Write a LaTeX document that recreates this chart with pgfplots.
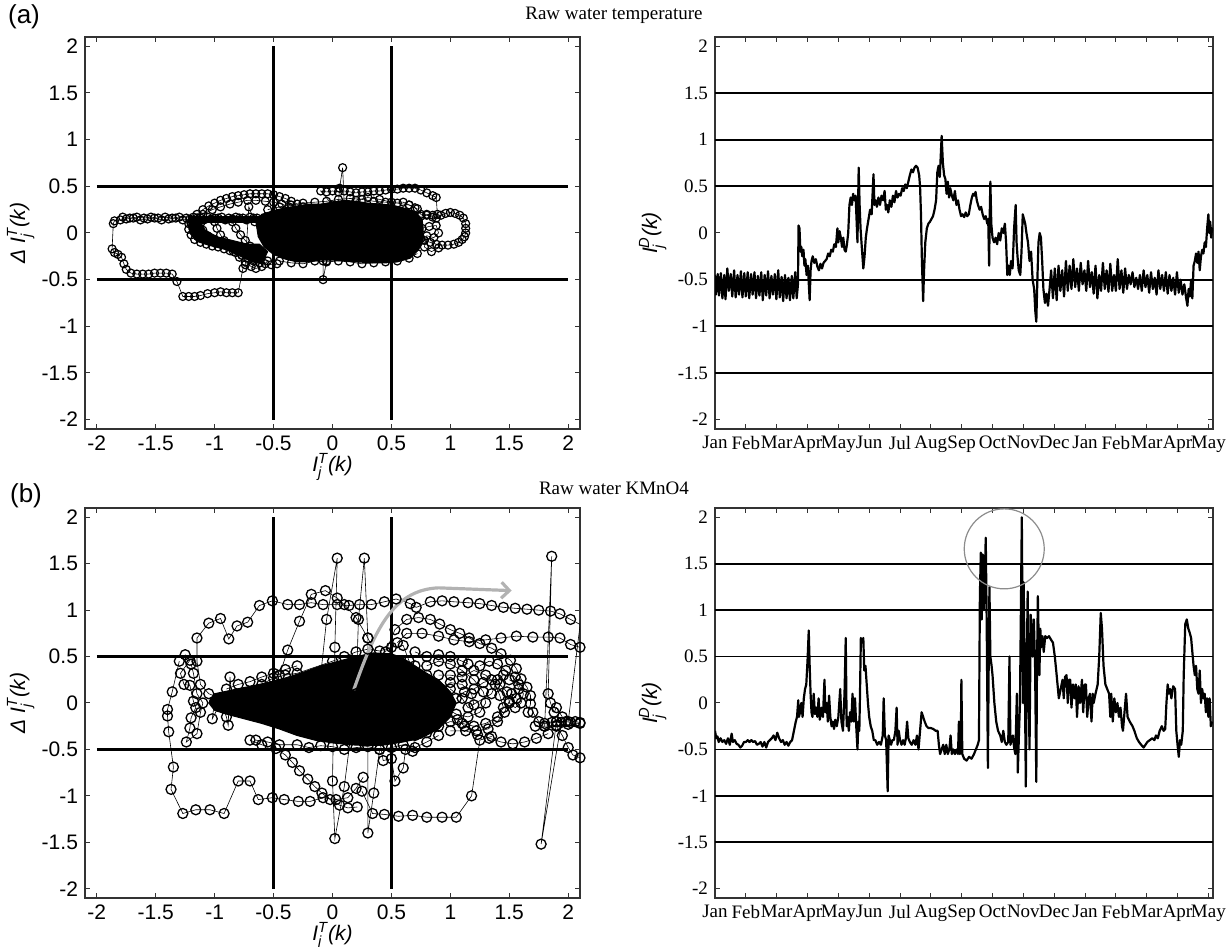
\documentclass[border=0pt]{standalone}
\usepackage{fontspec}
\setmainfont{Liberation Sans}
\newfontfamily\tnr{Liberation Serif}
\usepackage{amsmath}
\usepackage{pgfplots}
\pgfplotsset{compat=1.18}
\usetikzlibrary{arrows.meta}

\pgfplotsset{
  mbox/.style={scale only axis, anchor=south west,
    axis line style={black!80, line width=0.6pt},
    tick style={black!80, line width=0.5pt},
    major tick length=2.5pt, tick align=inside,
    xtick pos=both, ytick pos=both,
    xticklabel pos=lower, yticklabel pos=left,
    ytick={-2,-1.5,-1,-0.5,0,0.5,1,1.5,2},
    yticklabels={-2,-1.5,-1,-0.5,0,0.5,1,1.5,2},
    tick label style={font=\fontsize{10.5}{12}\selectfont},
    label style={font=\fontsize{10.5}{12}\selectfont\itshape},
  },
  phase/.style={mbox, width=247.5pt, xmin=-2.1, xmax=2.1,
    xtick={-2,-1.5,-1,-0.5,0,0.5,1,1.5,2},
    xticklabels={-2,-1.5,-1,-0.5,0,0.5,1,1.5,2},
    xlabel={I$^{\text{T}}_{\text{j}}$(k)},
    ylabel={Δ I$^{\text{T}}_{\text{j}}$(k)},
    every axis x label/.append style={at={(axis description cs:0.5,0)}, yshift=-19pt, anchor=center, inner sep=0pt},
    every axis y label/.append style={at={(axis description cs:-0.13,0.5)}, anchor=center},
  },
  series/.style={mbox, width=249pt, xmin=0, xmax=16.15,
    xtick={0,...,16},
    xticklabels={Jan,Feb,Mar,Apr,May,Jun,Jul,Aug,Sep,Oct,Nov,Dec,Jan,Feb,Mar,Apr,May},
    tick label style={font=\tnr\fontsize{9.5}{11}\selectfont},
    ylabel={I$^{\text{D}}_{\text{j}}$(k)},
    every axis y label/.append style={at={(axis description cs:-0.125,0.5)}, anchor=center},
  },
  trT/.style={black, line width=0.3pt, mark=o, mark size=2pt, mark options={line width=0.6pt, solid}},
  trK/.style={black, line width=0.3pt, mark=o, mark size=2.5pt, mark options={line width=0.65pt, solid}},
  blob/.style={black, fill=black, line width=0.5pt, mark=none},
  refl/.style={black, line width=1.4pt, mark=none},
  gline/.style={black, line width=0.9pt, mark=none},
  ser/.style={black, line width=1.1pt, mark=none, line join=round},
}

\begin{document}
\begin{tikzpicture}

% ---------- (a) phase plot, raw water temperature ----------
\begin{axis}[phase, at={(42.5pt,259pt)}, height=196pt, ymin=-2.1, ymax=2.1]
% dense cores of overlapping markers
\addplot[blob] coordinates {(-0.65,0.12) (-0.6,0.2) (-0.5,0.24) (-0.4,0.27) (-0.3,0.29) (-0.2,0.31) (-0.1,0.31) (0.0,0.33) (0.1,0.35) (0.2,0.34) (0.3,0.32) (0.4,0.31) (0.5,0.3) (0.6,0.27) (0.7,0.23) (0.76,0.15) (0.77,0.05) (0.77,-0.08) (0.73,-0.18) (0.66,-0.27) (0.55,-0.31) (0.45,-0.32) (0.35,-0.32) (0.2,-0.31) (0.1,-0.3) (0.0,-0.29) (-0.1,-0.29) (-0.2,-0.31) (-0.3,-0.31) (-0.4,-0.28) (-0.5,-0.23) (-0.58,-0.15) (-0.63,-0.04)} -- cycle;
\addplot[blob] coordinates {(-1.22,0.115) (-0.6,0.115) (-0.6,0.18) (-1.22,0.18)} -- cycle;
\addplot[blob] coordinates {(-1.22,0.12) (-1.21,0.0) (-1.15,-0.09) (-1.05,-0.13) (-0.9,-0.18) (-0.78,-0.25) (-0.68,-0.31) (-0.6,-0.33) (-0.55,-0.2) (-0.62,-0.12) (-0.72,-0.12) (-0.85,-0.08) (-0.98,-0.04) (-1.08,0.03) (-1.12,0.12)} -- cycle;
% track and left excursion
\addplot[trT] coordinates {(-0.55,0.15) (-0.61,0.14) (-0.67,0.16) (-0.73,0.14) (-0.79,0.16) (-0.85,0.15) (-0.91,0.14) (-0.97,0.16) (-1.03,0.15) (-1.09,0.14) (-1.15,0.16) (-1.21,0.15) (-1.27,0.14) (-1.33,0.16) (-1.39,0.15) (-1.45,0.14) (-1.51,0.16) (-1.57,0.15) (-1.63,0.14) (-1.69,0.16) (-1.75,0.15) (-1.8,0.14) (-1.85,0.13) (-1.86,0.10) (-1.87,-0.17) (-1.85,-0.21) (-1.82,-0.23) (-1.79,-0.26) (-1.77,-0.33) (-1.75,-0.39) (-1.71,-0.43) (-1.66,-0.44) (-1.61,-0.44) (-1.56,-0.44) (-1.51,-0.43) (-1.46,-0.43) (-1.41,-0.43) (-1.36,-0.44) (-1.32,-0.52) (-1.27,-0.68) (-1.22,-0.68) (-1.17,-0.68) (-1.12,-0.67) (-1.06,-0.65) (-1.0,-0.64) (-0.95,-0.63) (-0.9,-0.64) (-0.85,-0.64) (-0.8,-0.64) (-0.76,-0.38) (-0.74,-0.34) (-0.71,0.28) (-0.66,0.12)};
\addplot[trT] coordinates {(-1.78,0.17) (-1.72,0.16) (-1.66,0.17) (-1.6,0.16) (-1.54,0.17) (-1.48,0.16) (-1.42,0.17) (-1.36,0.16) (-1.3,0.17) (-1.24,0.16) (-1.18,0.17) (-1.12,0.16) (-1.06,0.17) (-1.0,0.16) (-0.94,0.17) (-0.88,0.16) (-0.82,0.17) (-0.76,0.16) (-0.7,0.17) (-0.64,0.16)};
% upper-left arcs
\addplot[trT] coordinates {(-1.2,0.1) (-1.15,0.2) (-1.1,0.25) (-1.05,0.29) (-1.0,0.32) (-0.95,0.35) (-0.9,0.37) (-0.85,0.39) (-0.8,0.4) (-0.75,0.41) (-0.7,0.42) (-0.65,0.42) (-0.6,0.42) (-0.55,0.42) (-0.5,0.41) (-0.45,0.39) (-0.4,0.37) (-0.35,0.34) (-0.3,0.31) (-0.25,0.28) (-0.2,0.24)};
\addplot[trT] coordinates {(-1.1,0.2) (-1.02,0.25) (-0.95,0.28) (-0.87,0.31) (-0.8,0.33) (-0.72,0.35) (-0.65,0.35) (-0.57,0.34) (-0.5,0.33) (-0.43,0.31) (-0.37,0.28)};
% lower-left loops
\addplot[trT] coordinates {(-1.22,0.1) (-1.22,0.04) (-1.2,-0.02) (-1.17,-0.07) (-1.12,-0.1) (-1.07,-0.12) (-1.02,-0.14) (-0.97,-0.15) (-0.92,-0.17) (-0.87,-0.19) (-0.82,-0.21) (-0.77,-0.24) (-0.72,-0.27) (-0.67,-0.3) (-0.62,-0.32) (-0.57,-0.33) (-0.52,-0.34) (-0.47,-0.33)};
\addplot[trT] coordinates {(-1.0,0.12) (-0.98,0.05) (-0.95,-0.02) (-0.92,-0.08) (-0.88,-0.14) (-0.84,-0.2) (-0.79,-0.26) (-0.74,-0.31) (-0.69,-0.36) (-0.65,-0.38) (-0.6,-0.36) (-0.55,-0.3)};
\addplot[trT] coordinates {(-1.12,0.1) (-1.1,0.03) (-1.06,-0.03) (-1.0,-0.07) (-0.94,-0.1) (-0.88,-0.12) (-0.82,-0.15) (-0.76,-0.19) (-0.7,-0.22)};
\addplot[trT] coordinates {(-0.85,0.12) (-0.82,0.05) (-0.78,-0.02) (-0.74,-0.08) (-0.7,-0.14) (-0.65,-0.2) (-0.6,-0.25)};
% upper-right arcs and right loop
\addplot[trT] coordinates {(0.0,0.3) (-0.1,0.45) (-0.05,0.44) (0.0,0.45) (0.05,0.44) (0.1,0.45) (0.15,0.44) (0.2,0.43) (0.25,0.44) (0.3,0.44) (0.35,0.45) (0.4,0.45) (0.45,0.46) (0.5,0.47) (0.55,0.47) (0.6,0.48) (0.65,0.48) (0.7,0.48) (0.75,0.46) (0.8,0.43) (0.85,0.4) (0.88,0.38) (0.89,0.2)};
\addplot[trT] coordinates {(0.2,0.35) (0.3,0.38) (0.4,0.36) (0.5,0.33) (0.6,0.33) (0.65,0.3) (0.7,0.27) (0.75,0.2) (0.8,0.2) (0.85,0.19)};
\addplot[trT] coordinates {(0.75,0.18) (0.8,0.19) (0.85,0.17) (0.88,0.16) (0.92,0.19) (0.96,0.21) (1.0,0.22) (1.04,0.21) (1.08,0.19) (1.11,0.16) (1.13,0.1) (1.13,0.05) (1.13,0.0) (1.12,-0.04) (1.1,-0.07) (1.07,-0.1) (1.03,-0.12) (0.98,-0.13) (0.93,-0.13) (0.88,-0.12) (0.83,-0.1) (0.78,-0.08) (0.75,-0.06)};
\addplot[trT] coordinates {(0.76,0.05) (0.82,0.07) (0.88,0.08) (0.9,0.0) (0.86,-0.05) (0.8,-0.03) (0.78,-0.15) (0.84,-0.2) (0.9,-0.16)};
% core edge markers
\addplot[trT] coordinates {(-0.45,-0.3) (-0.35,-0.32) (-0.25,-0.33) (-0.15,-0.3) (-0.05,-0.31) (0.05,-0.3) (0.15,-0.31) (0.25,-0.33) (0.35,-0.32) (0.45,-0.31) (0.55,-0.3) (0.65,-0.27) (0.72,-0.22)};
\addplot[trT] coordinates {(-0.55,0.25) (-0.45,0.28) (-0.35,0.3) (-0.25,0.32) (-0.15,0.33) (-0.05,0.34) (0.05,0.36) (0.15,0.37) (0.25,0.36) (0.35,0.34) (0.45,0.33) (0.55,0.32) (0.65,0.3) (0.72,0.26)};
% outliers
\addplot[trT] coordinates {(0.05,0.3) (0.06,0.48) (0.086,0.7) (0.1,0.3)};
\addplot[trT] coordinates {(-0.08,-0.3) (-0.08,-0.5) (-0.05,-0.3)};
% reference lines
\addplot[refl] coordinates {(-0.5,-2) (-0.5,2)};
\addplot[refl] coordinates {(0.5,-2) (0.5,2)};
\addplot[refl] coordinates {(-2,0.5) (2,0.5)};
\addplot[refl] coordinates {(-2,-0.5) (2,-0.5)};
\end{axis}

% ---------- (a) time series ----------
\begin{axis}[series, at={(357.5pt,259pt)}, height=196pt, ymin=-2.1, ymax=2.1]
\addplot[gline] coordinates {(0,1.5) (16.15,1.5)};
\addplot[gline] coordinates {(0,1) (16.15,1)};
\addplot[gline] coordinates {(0,0.5) (16.15,0.5)};
\addplot[gline] coordinates {(0,-0.5) (16.15,-0.5)};
\addplot[gline] coordinates {(0,-1) (16.15,-1)};
\addplot[gline] coordinates {(0,-1.5) (16.15,-1.5)};
\addplot[ser] coordinates {
(0.00,-0.45) (0.03,-0.66) (0.09,-0.44) (0.13,-0.67) (0.19,-0.43) (0.24,-0.70) (0.30,-0.45) (0.34,-0.71) (0.40,-0.38) (0.45,-0.62)
(0.51,-0.44) (0.56,-0.68) (0.62,-0.40) (0.67,-0.69) (0.73,-0.45) (0.78,-0.66) (0.84,-0.41) (0.89,-0.69) (0.95,-0.43) (1.00,-0.68)
(1.06,-0.42) (1.11,-0.70) (1.17,-0.44) (1.22,-0.66) (1.28,-0.42) (1.33,-0.70) (1.39,-0.46) (1.44,-0.67) (1.50,-0.42) (1.55,-0.72)
(1.61,-0.45) (1.66,-0.67) (1.72,-0.41) (1.77,-0.70) (1.83,-0.46) (1.88,-0.66) (1.94,-0.44) (1.99,-0.71) (2.05,-0.40) (2.10,-0.69)
(2.16,-0.47) (2.21,-0.73) (2.27,-0.45) (2.32,-0.70) (2.38,-0.48) (2.43,-0.72) (2.49,-0.46) (2.54,-0.70) (2.60,-0.42) (2.65,-0.70)
(2.69,-0.55) (2.71,0.08) (2.74,0.05) (2.77,-0.20) (2.80,-0.15) (2.83,-0.25) (2.87,-0.18) (2.90,-0.35) (2.93,-0.28) (2.97,-0.45)
(3.01,-0.35) (3.07,-0.72) (3.10,-0.40) (3.13,-0.30) (3.17,-0.25) (3.22,-0.32) (3.27,-0.28) (3.32,-0.36) (3.37,-0.40) (3.42,-0.33)
(3.47,-0.38) (3.52,-0.32) (3.57,-0.30) (3.62,-0.28) (3.67,-0.22) (3.72,-0.25) (3.77,-0.18) (3.82,-0.20) (3.87,-0.12) (3.92,-0.15)
(3.97,0.05) (4.00,-0.10) (4.04,0.02) (4.08,-0.05) (4.12,-0.15) (4.16,-0.05) (4.20,-0.18) (4.24,-0.20) (4.28,-0.12) (4.32,0.00)
(4.36,0.30) (4.40,0.38) (4.44,0.30) (4.48,0.42) (4.52,0.35) (4.56,0.40) (4.59,0.15) (4.62,-0.10) (4.66,0.70) (4.69,0.30)
(4.72,0.05) (4.76,-0.15) (4.81,-0.38) (4.85,-0.25) (4.89,-0.05) (4.93,0.05) (4.98,0.15) (5.03,0.25) (5.08,0.20) (5.14,0.63)
(5.17,0.30) (5.21,0.35) (5.25,0.28) (5.30,0.38) (5.35,0.30) (5.40,0.40) (5.45,0.35) (5.50,0.45) (5.54,0.25) (5.58,0.30)
(5.62,0.22) (5.67,0.35) (5.72,0.28) (5.77,0.40) (5.82,0.33) (5.87,0.45) (5.92,0.38) (5.97,0.42) (6.02,0.40) (6.07,0.48)
(6.12,0.45) (6.17,0.52) (6.22,0.48) (6.27,0.55) (6.32,0.62) (6.37,0.68) (6.42,0.65) (6.47,0.70) (6.52,0.72) (6.57,0.70)
(6.62,0.62) (6.65,0.50) (6.68,0.20) (6.71,-0.30) (6.75,-0.73) (6.78,-0.40) (6.82,-0.10) (6.87,0.05) (6.92,0.10) (6.97,0.12)
(7.02,0.15) (7.07,0.18) (7.12,0.25) (7.17,0.35) (7.21,0.65) (7.25,0.72) (7.29,0.60) (7.35,1.04) (7.39,0.75) (7.43,0.62)
(7.47,0.58) (7.51,0.42) (7.55,0.55) (7.59,0.38) (7.63,0.48) (7.68,0.40) (7.73,0.35) (7.78,0.45) (7.83,0.30) (7.88,0.35)
(7.93,0.25) (7.98,0.18) (8.03,0.20) (8.08,0.17) (8.13,0.22) (8.18,0.18) (8.23,0.20) (8.28,0.30) (8.33,0.38) (8.37,0.42)
(8.41,0.40) (8.45,0.44) (8.49,0.35) (8.53,0.30) (8.58,0.25) (8.63,0.28) (8.68,0.20) (8.73,0.15) (8.78,0.18) (8.83,0.10)
(8.86,0.15) (8.89,-0.35) (8.91,0.20) (8.93,0.55) (8.96,0.10) (9.00,-0.05) (9.05,-0.10) (9.10,-0.05) (9.15,-0.12) (9.20,0.00)
(9.25,-0.08) (9.30,0.05) (9.35,0.00) (9.40,0.10) (9.44,-0.10) (9.48,-0.45) (9.52,-0.35) (9.56,-0.45) (9.60,-0.30) (9.65,-0.38)
(9.70,0.05) (9.75,0.30) (9.78,-0.10) (9.81,-0.25) (9.85,-0.40) (9.90,-0.45) (9.94,-0.20) (9.98,0.20) (10.02,0.15) (10.06,0.10)
(10.10,0.00) (10.15,-0.10) (10.20,-0.30) (10.25,-0.20) (10.30,-0.50) (10.35,-0.60) (10.39,-0.85) (10.42,-0.95) (10.45,-0.55) (10.49,-0.10)
(10.53,0.00) (10.57,-0.05) (10.61,-0.30) (10.65,-0.60) (10.70,-0.75) (10.75,-0.65) (10.80,-0.78) (10.85,-0.60)
(10.90,-0.40) (10.96,-0.70) (11.02,-0.38) (11.08,-0.72) (11.14,-0.35) (11.20,-0.62) (11.26,-0.40) (11.32,-0.68) (11.38,-0.30) (11.44,-0.62)
(11.50,-0.35) (11.56,-0.60) (11.62,-0.28) (11.68,-0.58) (11.74,-0.38) (11.80,-0.62) (11.86,-0.32) (11.92,-0.55) (11.98,-0.40) (12.04,-0.62)
(12.10,-0.30) (12.16,-0.58) (12.22,-0.42) (12.28,-0.65) (12.34,-0.35) (12.40,-0.70) (12.46,-0.45) (12.52,-0.62) (12.58,-0.32) (12.64,-0.60)
(12.70,-0.40) (12.76,-0.63) (12.82,-0.33) (12.88,-0.62) (12.94,-0.45) (13.00,-0.62) (13.06,-0.28) (13.12,-0.60) (13.18,-0.40) (13.24,-0.64)
(13.30,-0.38) (13.36,-0.60) (13.42,-0.45) (13.48,-0.55) (13.54,-0.42) (13.60,-0.58) (13.66,-0.48) (13.72,-0.60) (13.78,-0.45) (13.84,-0.62)
(13.90,-0.40) (13.96,-0.58) (14.02,-0.45) (14.08,-0.64) (14.14,-0.42) (14.20,-0.60) (14.26,-0.48) (14.32,-0.66) (14.38,-0.40) (14.44,-0.60)
(14.50,-0.45) (14.56,-0.62) (14.62,-0.42) (14.68,-0.65) (14.74,-0.45) (14.80,-0.62) (14.86,-0.48) (14.92,-0.66) (14.98,-0.42) (15.04,-0.64)
(15.10,-0.50) (15.16,-0.66) (15.22,-0.55) (15.28,-0.70) (15.32,-0.78) (15.36,-0.60) (15.40,-0.68) (15.44,-0.50) (15.48,-0.70) (15.52,-0.35)
(15.56,-0.30) (15.60,-0.22) (15.64,-0.32) (15.68,-0.20) (15.72,-0.40) (15.76,-0.25) (15.80,-0.18) (15.84,-0.22) (15.88,-0.10) (15.92,-0.15)
(15.96,0.05) (16.00,0.20) (16.03,0.00) (16.06,0.12) (16.09,-0.05) (16.12,0.05) (16.15,0.02)};
\end{axis}

% ---------- (b) phase plot, raw water KMnO4 ----------
\begin{axis}[phase, at={(42.5pt,24.5pt)}, height=195pt, ymin=-2.1, ymax=2.1]
\addplot[blob] coordinates {(-1.05,0.0) (-1.0,0.1) (-0.85,0.14) (-0.7,0.18) (-0.55,0.22) (-0.4,0.27) (-0.25,0.33) (-0.1,0.4) (0.05,0.45) (0.2,0.5) (0.35,0.54) (0.5,0.53) (0.6,0.48) (0.7,0.4) (0.8,0.32) (0.9,0.25) (1.0,0.12) (1.05,0.0) (1.0,-0.15) (0.9,-0.28) (0.75,-0.38) (0.6,-0.42) (0.45,-0.45) (0.3,-0.46) (0.15,-0.45) (0.0,-0.43) (-0.15,-0.4) (-0.3,-0.35) (-0.45,-0.28) (-0.6,-0.22) (-0.75,-0.17) (-0.9,-0.12) (-1.0,-0.08)} -- cycle;
% top big loop
\addplot[trK] coordinates {(-0.95,0.05) (-1.05,0.1) (-1.12,0.2) (-1.15,0.45) (-1.15,0.7) (-1.05,0.86) (-0.95,0.91) (-0.88,0.69) (-0.81,0.83) (-0.72,0.87) (-0.62,1.05) (-0.51,1.1) (-0.38,1.06) (-0.28,1.06) (-0.18,1.08) (-0.08,1.06) (0.04,1.06) (0.14,1.05) (0.23,1.06) (0.33,1.06) (0.44,1.09) (0.54,1.12) (0.66,1.07) (0.71,1.03) (0.83,1.09) (0.93,1.1) (1.03,1.09) (1.15,1.08) (1.25,1.07) (1.35,1.05) (1.45,1.03) (1.55,1.02) (1.65,1.01) (1.75,1.0) (1.85,0.99) (1.93,0.96) (2.02,0.9) (2.11,0.84)};
\addplot[trK] coordinates {(-0.45,0.3) (-0.38,0.57) (-0.28,0.88) (-0.18,1.17) (-0.06,1.21) (0.04,1.13) (0.1,1.06) (0.2,0.92) (0.3,0.7) (0.4,0.45)};
% spikes
\addplot[trK] coordinates {(-0.1,0.3) (-0.05,0.9) (0.04,1.56) (0.02,0.6) (0.0,-0.84) (0.02,-1.46) (0.1,-0.9) (0.2,0.1) (0.22,0.9) (0.27,1.56) (0.3,0.7) (0.3,-1.4) (0.35,-0.97) (0.4,-0.5)};
% lower loops
\addplot[trK] coordinates {(-1.3,0.45) (-1.36,0.12) (-1.4,-0.07) (-1.4,-0.14) (-1.39,-0.31) (-1.35,-0.69) (-1.37,-0.93) (-1.27,-1.19) (-1.16,-1.15) (-1.04,-1.15) (-0.92,-1.19) (-0.8,-0.84) (-0.7,-0.84) (-0.63,-1.04) (-0.51,-1.02) (-0.41,-1.04) (-0.29,-1.06) (-0.19,-1.06) (-0.08,-1.02) (0.03,-1.04) (0.13,-1.02) (0.2,-0.92) (0.26,-0.8)};
\addplot[trK] coordinates {(-0.7,-0.4) (-0.6,-0.45) (-0.48,-0.49) (-0.4,-0.56) (-0.34,-0.64) (-0.28,-0.73) (-0.21,-0.82) (-0.15,-0.9) (-0.09,-0.97) (-0.02,-1.04) (0.06,-1.1) (0.13,-1.13) (0.21,-1.12)};
\addplot[trK] coordinates {(0.25,-0.95) (0.34,-1.19) (0.44,-1.2) (0.56,-1.22) (0.68,-1.21) (0.8,-1.23) (0.93,-1.23) (1.05,-1.23) (1.18,-1.0) (1.25,-0.4) (1.35,-0.36)};
\addplot[trK] coordinates {(0.4,-0.4) (0.43,-0.62) (0.5,-0.6) (0.53,-0.84) (0.6,-0.7) (0.62,-0.5) (0.68,-0.52) (0.7,-0.35)};
% left cluster
\addplot[trK] coordinates {(-1.25,0.52) (-1.21,0.46) (-1.29,0.32) (-1.26,0.2) (-1.21,0.19) (-1.18,0.02) (-1.16,-0.05) (-1.2,-0.16) (-1.21,-0.27) (-1.24,-0.42) (-1.15,-0.33) (-1.12,-0.1) (-1.1,0.0) (-1.15,0.1) (-1.18,0.32) (-1.2,0.42)};
\addplot[trK] coordinates {(-1.0,0.02) (-1.02,-0.17) (-0.95,0.0) (-0.9,-0.15) (-0.885,-0.24) (-0.87,0.28) (-0.85,0.0)};
% upper-right arcs
\addplot[trK] coordinates {(0.45,0.55) (0.53,0.79) (0.63,0.9) (0.73,0.92) (0.83,0.9) (0.91,0.85) (1.0,0.79) (1.08,0.75) (1.16,0.7) (1.25,0.64) (1.35,0.59) (1.43,0.53) (1.51,0.46) (1.56,0.37) (1.6,0.26) (1.65,0.17) (1.68,0.08) (1.68,-0.01) (1.66,-0.1)};
\addplot[trK] coordinates {(0.55,0.65) (0.63,0.75) (0.76,0.75) (0.9,0.72) (1.03,0.68) (1.16,0.66) (1.3,0.68) (1.43,0.7) (1.56,0.72) (1.7,0.71) (1.83,0.71) (1.93,0.7) (2.02,0.63) (2.1,0.6)};
% right side
\addplot[trK] coordinates {(1.7,-0.1) (1.75,-0.2) (1.8,-0.22) (1.86,-0.21) (1.9,-0.2) (1.94,-0.21) (1.98,-0.2) (2.02,-0.21) (2.06,-0.2) (2.1,-0.21) (2.14,-0.2)};
\addplot[trK] coordinates {(1.72,-0.25) (1.8,-0.25) (1.9,-0.24) (2.0,-0.23) (2.1,-0.22)};
\addplot[trK] coordinates {(1.8,-0.25) (1.86,1.58) (1.83,0.1) (1.85,0.0) (1.88,-0.1) (1.9,-0.05) (1.95,-0.15) (1.77,-1.52) (1.9,-0.2)};
\addplot[trK] coordinates {(1.9,-0.25) (1.95,-0.35) (2.0,-0.48) (2.04,-0.56) (2.1,-0.59) (2.14,-0.6)};
\addplot[trK] coordinates {(2.0,-0.2) (2.15,1.35)};
\addplot[trK] coordinates {(1.83,-0.33) (1.73,-0.38) (1.63,-0.42) (1.53,-0.44) (1.43,-0.42) (1.33,-0.38) (1.23,-0.34) (1.13,-0.3) (1.0,-0.3)};
\addplot[trK] coordinates {(1.5,0.25) (1.58,0.2) (1.62,0.1) (1.6,0.0) (1.55,-0.05) (1.5,0.0) (1.52,0.1) (1.56,0.05)};
% ring texture
\addplot[trK] coordinates {(0.8,0.4) (0.9,0.45) (1.0,0.42) (1.1,0.35) (1.2,0.25) (1.28,0.12) (1.3,0.0) (1.25,-0.1) (1.15,-0.15) (1.05,-0.12) (0.95,-0.05) (0.9,0.05) (0.92,0.15) (1.0,0.22) (1.1,0.2) (1.18,0.1) (1.2,-0.02)};
\addplot[trK] coordinates {(0.9,0.3) (1.0,0.3) (1.1,0.28) (1.2,0.35) (1.3,0.3) (1.38,0.2) (1.42,0.08) (1.45,-0.05) (1.4,-0.15) (1.3,-0.22) (1.2,-0.25) (1.1,-0.22) (1.0,-0.2) (0.9,-0.25) (0.8,-0.32)};
\addplot[trK] coordinates {(0.7,0.55) (0.8,0.5) (0.9,0.52) (1.0,0.5) (1.1,0.45) (1.15,0.42)};
\addplot[trK] coordinates {(1.0,0.15) (1.1,0.05) (1.15,-0.05) (1.35,0.1) (1.4,0.25) (1.45,0.3)};
\addplot[trK] coordinates {(1.05,0.05) (1.12,0.12) (1.2,0.15) (1.28,0.22) (1.35,0.25) (1.42,0.2) (1.48,0.12) (1.5,0.02) (1.46,-0.1) (1.4,-0.2) (1.32,-0.28) (1.22,-0.3) (1.12,-0.25) (1.06,-0.18)};
\addplot[trK] coordinates {(1.25,0.4) (1.33,0.45) (1.4,0.42) (1.47,0.35) (1.55,0.28) (1.58,0.15)};
% core edge markers
\addplot[trK] coordinates {(-0.65,-0.4) (-0.55,-0.42) (-0.45,-0.45) (-0.3,-0.45) (-0.2,-0.48) (-0.1,-0.46) (0.0,-0.47) (0.1,-0.5) (0.2,-0.48) (0.3,-0.47) (0.4,-0.5) (0.5,-0.48) (0.6,-0.45) (0.7,-0.48) (0.8,-0.42) (0.9,-0.35)};
\addplot[trK] coordinates {(-0.6,0.2) (-0.5,0.27) (-0.4,0.3) (-0.3,0.32) (0.0,0.45) (0.1,0.5) (0.2,0.55) (0.3,0.58) (0.4,0.56) (0.5,0.6) (0.6,0.62) (0.65,0.45) (0.7,0.4) (0.8,0.3)};
\addplot[trK] coordinates {(-0.9,0.15) (-0.8,0.2) (-0.7,0.23) (-0.6,0.28) (-0.5,0.32) (-0.4,0.36) (-0.3,0.4)};
% reference lines
\addplot[refl] coordinates {(-0.5,-2) (-0.5,2)};
\addplot[refl] coordinates {(0.5,-2) (0.5,2)};
\addplot[refl] coordinates {(-2,0.5) (2,0.5)};
\addplot[refl] coordinates {(-2,-0.5) (2,-0.5)};
% grey annotation arrow
\draw[black!30, line width=1.6pt, -{Straight Barb[length=4pt,width=8pt]}]
  (axis cs:0.18,0.14) .. controls (axis cs:0.35,0.75) and (axis cs:0.5,1.22) .. (axis cs:0.9,1.24) -- (axis cs:1.52,1.21);
\end{axis}

% ---------- (b) time series ----------
\begin{axis}[series, at={(357.5pt,24.5pt)}, height=195pt, ymin=-2.1, ymax=2.1]
\addplot[gline] coordinates {(0,1.5) (16.15,1.5)};
\addplot[gline] coordinates {(0,1) (16.15,1)};
\addplot[gline] coordinates {(0,0.5) (16.15,0.5)};
\addplot[gline] coordinates {(0,-0.5) (16.15,-0.5)};
\addplot[gline] coordinates {(0,-1) (16.15,-1)};
\addplot[gline] coordinates {(0,-1.5) (16.15,-1.5)};
\addplot[ser] coordinates {
(0.00,-0.30) (0.04,-0.38) (0.08,-0.36) (0.12,-0.42) (0.18,-0.38) (0.24,-0.42) (0.30,-0.40) (0.36,-0.44) (0.42,-0.38) (0.48,-0.45)
(0.54,-0.33) (0.58,-0.42) (0.64,-0.40) (0.70,-0.44) (0.76,-0.45) (0.82,-0.48) (0.88,-0.46) (0.94,-0.42) (1.00,-0.42) (1.06,-0.40)
(1.12,-0.42) (1.18,-0.40) (1.24,-0.42) (1.30,-0.41) (1.36,-0.45) (1.42,-0.44) (1.48,-0.42) (1.54,-0.47) (1.60,-0.42) (1.66,-0.48)
(1.72,-0.42) (1.78,-0.40) (1.84,-0.38) (1.90,-0.35) (1.96,-0.40) (2.02,-0.32) (2.08,-0.38) (2.14,-0.42) (2.20,-0.40) (2.26,-0.45)
(2.32,-0.42) (2.38,-0.46) (2.44,-0.42) (2.50,-0.40) (2.56,-0.30) (2.62,-0.20) (2.66,-0.15) (2.70,0.03) (2.72,-0.15) (2.76,-0.10)
(2.80,0.00) (2.84,-0.15) (2.88,0.05) (2.92,0.15) (2.96,0.20) (3.00,0.45) (3.04,0.78) (3.07,0.40) (3.10,0.10) (3.13,-0.10)
(3.16,-0.15) (3.20,0.10) (3.24,-0.12) (3.28,-0.05) (3.32,-0.15) (3.36,0.05) (3.40,-0.18) (3.45,-0.05) (3.50,-0.15) (3.55,0.25)
(3.58,-0.10) (3.62,0.00) (3.66,-0.20) (3.70,0.08) (3.74,-0.15) (3.78,-0.25) (3.82,-0.20) (3.86,-0.28) (3.90,-0.18) (3.95,-0.25)
(4.00,-0.15) (4.06,0.15) (4.10,-0.20) (4.15,-0.30) (4.20,0.10) (4.24,0.70) (4.27,-0.25) (4.30,-0.15) (4.34,-0.30) (4.38,-0.10)
(4.42,-0.20) (4.46,0.10) (4.50,-0.20) (4.54,0.05) (4.58,-0.25) (4.62,-0.50) (4.65,-0.20) (4.68,-0.30) (4.70,0.05) (4.73,0.70)
(4.77,0.65) (4.81,0.70) (4.84,0.35) (4.88,0.40) (4.92,0.20) (4.96,0.00) (5.00,-0.15) (5.05,-0.25) (5.10,-0.30) (5.15,-0.40)
(5.20,-0.40) (5.26,-0.45) (5.32,-0.42) (5.38,-0.45) (5.44,-0.35) (5.47,0.05) (5.51,-0.35) (5.55,-0.40) (5.60,-0.95) (5.63,-0.35)
(5.67,-0.40) (5.71,-0.45) (5.75,-0.40) (5.80,-0.40) (5.85,-0.30) (5.89,-0.05) (5.92,-0.45) (5.96,-0.30) (6.00,-0.40) (6.05,-0.45)
(6.10,-0.40) (6.15,-0.45) (6.19,-0.38) (6.23,-0.20) (6.27,-0.38) (6.32,-0.42) (6.38,-0.45) (6.44,-0.40) (6.50,-0.45) (6.55,-0.35)
(6.60,-0.50) (6.65,-0.30) (6.70,-0.10) (6.75,-0.15) (6.80,-0.20) (6.86,-0.25) (6.92,-0.27) (7.00,-0.27) (7.08,-0.28) (7.16,-0.30)
(7.22,-0.30) (7.26,-0.45) (7.30,-0.55) (7.35,-0.50) (7.40,-0.45) (7.45,-0.55) (7.50,-0.45) (7.55,-0.55) (7.60,-0.50) (7.64,-0.35)
(7.68,-0.55) (7.73,-0.50) (7.78,-0.55) (7.84,-0.50) (7.88,-0.55) (7.91,-0.20) (7.94,-0.55) (7.97,-0.50) (7.99,0.25) (8.02,-0.55)
(8.08,-0.60) (8.16,-0.62) (8.24,-0.58) (8.32,-0.60) (8.40,-0.55) (8.46,-0.50) (8.52,-0.45) (8.56,-0.40) (8.59,1.15) (8.62,1.62)
(8.65,0.90) (8.68,1.60) (8.71,1.00) (8.74,1.20) (8.78,1.78) (8.81,0.90) (8.85,-0.70) (8.88,0.60) (8.90,1.25) (8.93,0.50)
(8.97,0.40) (9.00,0.30) (9.06,0.00) (9.12,-0.20) (9.18,-0.30) (9.25,-0.35) (9.30,-0.42) (9.35,-0.30) (9.40,-0.42) (9.45,-0.45)
(9.51,-0.42) (9.55,0.50) (9.58,-0.45) (9.62,-0.40) (9.66,-0.35) (9.70,-0.48) (9.74,-0.55) (9.79,0.10) (9.82,-0.75) (9.86,-0.30)
(9.89,0.00) (9.95,2.00) (9.99,0.00) (10.01,1.30) (10.05,0.20) (10.08,-0.90) (10.11,0.40) (10.14,1.20) (10.17,0.20) (10.20,-0.50)
(10.24,0.95) (10.30,0.50) (10.34,0.90) (10.38,0.40) (10.42,-0.85) (10.44,0.30) (10.47,1.15) (10.52,0.30) (10.55,0.80) (10.58,0.60)
(10.62,0.72) (10.66,0.55) (10.71,0.72) (10.77,0.70) (10.83,0.72) (10.90,0.68) (10.96,0.65) (11.02,0.50) (11.08,0.30) (11.15,0.05)
(11.21,0.15) (11.27,0.25) (11.31,0.05) (11.35,0.28) (11.40,0.30) (11.44,0.00) (11.48,0.25) (11.52,0.25) (11.56,-0.05) (11.61,0.20)
(11.66,0.05) (11.70,0.20) (11.74,-0.15) (11.79,0.18) (11.84,0.00) (11.90,0.25) (11.94,-0.10) (11.99,0.20) (12.03,0.20) (12.07,-0.15)
(12.12,0.05) (12.16,0.10) (12.21,-0.20) (12.25,0.10) (12.28,0.00) (12.34,0.10) (12.41,0.20) (12.46,0.50) (12.51,0.97) (12.55,0.80)
(12.60,0.40) (12.66,0.20) (12.72,0.15) (12.78,0.10) (12.82,-0.15) (12.85,0.10) (12.90,-0.20) (12.95,0.05) (13.00,-0.10) (13.05,0.00)
(13.10,-0.15) (13.15,-0.05) (13.20,-0.25) (13.23,-0.30) (13.28,-0.10) (13.33,0.10) (13.38,-0.15) (13.45,-0.20) (13.54,-0.25) (13.60,-0.30)
(13.68,-0.38) (13.75,-0.42) (13.82,-0.45) (13.90,-0.48) (13.96,-0.45) (14.02,-0.42) (14.10,-0.40) (14.18,-0.38) (14.25,-0.40) (14.30,-0.35)
(14.36,-0.38) (14.42,-0.30) (14.49,-0.25) (14.55,-0.30) (14.60,-0.28) (14.64,0.00) (14.68,0.20) (14.72,0.10) (14.76,0.15) (14.80,0.05)
(14.86,0.18) (14.92,0.15) (14.96,-0.30) (15.00,-0.45) (15.04,-0.58) (15.08,-0.40) (15.12,-0.45) (15.17,-0.30) (15.20,0.30) (15.25,0.85)
(15.30,0.90) (15.35,0.80) (15.40,0.75) (15.44,0.70) (15.48,0.55) (15.52,0.40) (15.56,0.30) (15.60,0.40) (15.64,0.15) (15.68,0.10)
(15.72,0.35) (15.76,0.00) (15.80,0.15) (15.84,0.05) (15.88,0.10) (15.92,-0.10) (15.96,0.05) (16.00,-0.15) (16.04,0.05) (16.08,-0.25)
(16.12,-0.20)};
\draw[black!45, line width=0.6pt] (axis cs:9.38,1.66) circle[radius=20pt];
\end{axis}

% titles and panel letters
\node[font=\tnr\fontsize{9.5}{11}\selectfont] at (307pt,466pt) {Raw water temperature};
\node[font=\tnr\fontsize{9.5}{11}\selectfont] at (307pt,229.5pt) {Raw water KMnO4};
\node[font=\fontsize{13}{15}\selectfont] at (12pt,465pt) {(a)};
\node[font=\fontsize{13}{15}\selectfont] at (13pt,225.5pt) {(b)};

\pgfresetboundingbox
\path[use as bounding box] (0,0) rectangle (614pt,473.5pt);
\end{tikzpicture}
\end{document}
